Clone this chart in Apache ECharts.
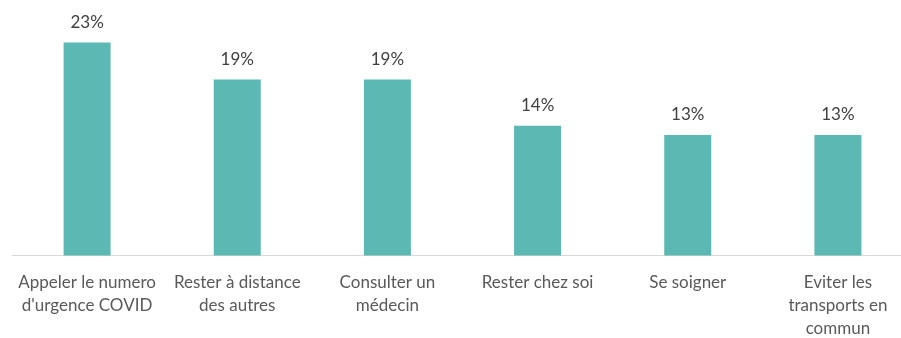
<!DOCTYPE html>
<html>
<head>
<meta charset="utf-8">
<script src="https://cdn.jsdelivr.net/npm/echarts@6/dist/echarts.min.js"></script>
<style>
  html, body { margin: 0; padding: 0; background: #ffffff; }
  #chart { width: 901px; height: 338px; }
</style>
</head>
<body>
<div id="chart"></div>
<script>
// Gestes barrières cités (% de répondants)
const categories = [
  "Appeler le numero\nd'urgence COVID",
  "Rester à distance\ndes autres",
  "Consulter un\nmédecin",
  "Rester chez soi",
  "Se soigner",
  "Eviter les\ntransports en\ncommun"
];
const values = [23, 19, 19, 14, 13, 13];

const chart = echarts.init(document.getElementById('chart'), null, { renderer: 'canvas' });
chart.setOption({
  animation: false,
  backgroundColor: '#ffffff',
  grid: {
    left: 12, width: 901, top: 24, bottom: 82.5,
    containLabel: false,
    outerBoundsMode: 'none'
  },
  xAxis: {
    type: 'category',
    data: categories,
    axisLine: { show: true, lineStyle: { color: '#d9d9d9', width: 1 } },
    axisTick: { show: false },
    axisLabel: {
      interval: 0,
      margin: 16,
      color: '#595959',
      fontFamily: 'Lato',
      fontSize: 17,
      lineHeight: 23,
      align: 'center'
    }
  },
  yAxis: {
    type: 'value',
    min: 0,
    max: 25,
    show: false,
    splitLine: { show: false }
  },
  series: [{
    type: 'bar',
    data: values,
    barWidth: 47,
    itemStyle: { color: '#5cb8b2' },
    label: {
      show: true,
      position: 'top',
      distance: 12,
      color: '#404040',
      fontFamily: 'Lato',
      fontSize: 17,
      formatter: p => p.value + '%'
    }
  }]
});
</script>
</body>
</html>
